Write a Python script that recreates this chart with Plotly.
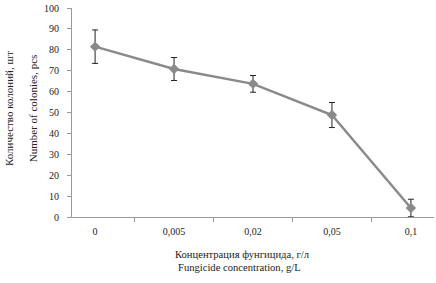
import plotly.graph_objects as go

categories = ["0", "0,005", "0,02", "0,05", "0,1"]
colonies = [81.5, 70.8, 63.7, 48.8, 4.3]
errors = [8.0, 5.5, 4.0, 6.0, 4.2]
y_ticks = [0, 10, 20, 30, 40, 50, 60, 70, 80, 90, 100]

font = "Liberation Serif"

fig = go.Figure()
fig.add_trace(go.Scatter(
    x=categories, y=colonies,
    mode="lines+markers",
    line=dict(color="#8a8a8a", width=2.5),
    marker=dict(symbol="diamond", size=8, color="#8a8a8a"),
    error_y=dict(type="data", array=errors, visible=True,
                 color="#222222", thickness=1, width=3),
    showlegend=False,
))

fig.update_layout(
    width=436, height=283,
    margin=dict(l=72, r=2, t=8, b=66),
    paper_bgcolor="white", plot_bgcolor="white",
    font=dict(family=font, size=10, color="#222222"),
    xaxis=dict(
        type="category", tickson="boundaries",
        showline=True, linecolor="#999999", linewidth=1,
        ticks="outside", ticklen=4, tickcolor="#999999",
        showgrid=False, zeroline=False,
        ticklabelstandoff=5,
        tickfont=dict(family=font, size=10),
    ),
    yaxis=dict(
        range=[0, 100], tickvals=y_ticks,
        showline=True, linecolor="#999999", linewidth=1,
        ticks="outside", ticklen=4, tickcolor="#999999",
        showgrid=False, zeroline=False,
        ticklabelstandoff=6,
        tickfont=dict(family=font, size=10),
    ),
    annotations=[
        dict(text="Количество колоний, шт", xref="paper", yref="paper",
             x=-0.172, y=0.52, xanchor="center", yanchor="middle",
             textangle=-90, showarrow=False, font=dict(family=font, size=11)),
        dict(text="Number of colonies, pcs", xref="paper", yref="paper",
             x=-0.108, y=0.52, xanchor="center", yanchor="middle",
             textangle=-90, showarrow=False, font=dict(family=font, size=11)),
        dict(text="Концентрация фунгицида, г/л", xref="paper", yref="paper",
             x=0.472, y=-0.18, xanchor="center", yanchor="middle",
             showarrow=False, font=dict(family=font, size=10.6)),
        dict(text="Fungicide concentration, g/L", xref="paper", yref="paper",
             x=0.462, y=-0.24, xanchor="center", yanchor="middle",
             showarrow=False, font=dict(family=font, size=10.6)),
    ],
)

fig.write_html("out.html", config={"displayModeBar": False},
               post_script="document.body.style.margin='0';")
